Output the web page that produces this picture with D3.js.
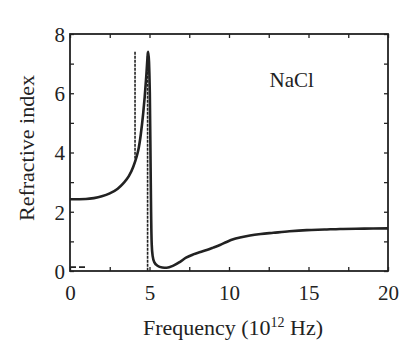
<!DOCTYPE html>
<html><head><meta charset="utf-8">
<script src="https://cdn.jsdelivr.net/npm/d3@7"></script>
<style>html,body{margin:0;padding:0;background:#fff;}svg{display:block;}</style>
</head><body>
<script>
// Data (frequency in 10^12 Hz, refractive index)
const freq = [0,1,1.5,2,2.5,3,3.35,3.7,3.98,4.19,4.3,4.45,4.6,4.7,4.8,4.92,
  5.02,5.07,5.1,5.14,5.2,5.3,5.5,5.8,6.08,6.5,6.92,7.3,7.75,8.2,8.6,9.0,9.43,9.85,
  10.27,10.69,11.32,12.0,12.79,13.8,14.89,16,16.98,18.5,20];
const index = [2.42,2.43,2.46,2.52,2.62,2.78,2.96,3.2,3.52,3.86,4.09,4.6,5.3,5.89,6.6,7.4,
  6.0,3.5,2.0,0.9,0.5,0.3,0.18,0.12,0.11,0.18,0.31,0.45,0.56,0.64,0.71,0.79,0.88,0.98,
  1.07,1.13,1.2,1.25,1.29,1.34,1.38,1.4,1.42,1.43,1.44];
const xTickLabels = [0,5,10,15,20];
const yTickLabels = [0,2,4,6,8];
const xMinorTicks = [0,2.5,5,7.5,10,12.5,15,17.5,20];
const yMinorTicks = [0,1,2,3,4,5,6,7,8];
// marker lines: [x, yFrom, yTo]
const markerLines = [[4.09,7.4,3.8],[4.88,7.4,0]];
const dashSegment = [[0,0.13],[0.95,0.13]];
const materialLabel = "NaCl";

const W=414,H=345;
const m={l:70,r:26,t:34,b:74};
const svg=d3.select("body").append("svg").attr("width",W).attr("height",H);
const x=d3.scaleLinear().domain([0,20]).range([m.l,W-m.r]);
const y=d3.scaleLinear().domain([0,8]).range([H-m.b,m.t]);
const ink="#222";
const serif="'Liberation Serif','Times New Roman',serif";

// frame
svg.append("rect").attr("x",x(0)).attr("y",y(8)).attr("width",x(20)-x(0)).attr("height",y(0)-y(8))
  .attr("fill","none").attr("stroke",ink).attr("stroke-width",1.8);

const tl=4;
// inward ticks on all sides
svg.append("g").attr("transform",`translate(0,${y(0)})`)
  .call(d3.axisBottom(x).tickValues(xMinorTicks).tickSize(-tl).tickFormat(""))
  .call(g=>{g.select(".domain").remove();g.selectAll("line").attr("stroke",ink).attr("stroke-width",1.3);});
svg.append("g").attr("transform",`translate(0,${y(8)})`)
  .call(d3.axisTop(x).tickValues(xMinorTicks).tickSize(-tl).tickFormat(""))
  .call(g=>{g.select(".domain").remove();g.selectAll("line").attr("stroke",ink).attr("stroke-width",1.3);});
svg.append("g").attr("transform",`translate(${x(0)},0)`)
  .call(d3.axisLeft(y).tickValues(yMinorTicks).tickSize(-tl).tickFormat(""))
  .call(g=>{g.select(".domain").remove();g.selectAll("line").attr("stroke",ink).attr("stroke-width",1.3);});
svg.append("g").attr("transform",`translate(${x(20)},0)`)
  .call(d3.axisRight(y).tickValues(yMinorTicks).tickSize(-tl).tickFormat(""))
  .call(g=>{g.select(".domain").remove();g.selectAll("line").attr("stroke",ink).attr("stroke-width",1.3);});

// tick labels
svg.append("g").attr("transform",`translate(0,${y(0)})`)
  .call(d3.axisBottom(x).tickValues(xTickLabels).tickSize(0).tickPadding(29).tickFormat(d3.format("d")))
  .call(g=>{g.select(".domain").remove();g.selectAll("text").attr("font-family",serif).attr("font-size",21).attr("fill",ink).attr("dy",0);});
svg.append("g").attr("transform",`translate(${x(0)},0)`)
  .call(d3.axisLeft(y).tickValues(yTickLabels).tickSize(0).tickPadding(5).tickFormat(d3.format("d")))
  .call(g=>{g.select(".domain").remove();g.selectAll("text").attr("font-family",serif).attr("font-size",21).attr("fill",ink).attr("dy","0.35em");});

// axis titles
const xt=svg.append("text").attr("x",233).attr("y",335).attr("text-anchor","middle")
  .attr("font-family",serif).attr("font-size",22).attr("fill",ink);
xt.append("tspan").text("Frequency (10");
xt.append("tspan").attr("font-size",14).attr("dy",-8).text("12");
xt.append("tspan").attr("dy",8).text(" Hz)");
svg.append("text").attr("transform","translate(34,148) rotate(-90)").attr("text-anchor","middle")
  .attr("font-family",serif).attr("font-size",22).attr("fill",ink).text("Refractive index");

// material label
svg.append("text").attr("x",x(12.55)).attr("y",87).attr("font-family",serif).attr("font-size",21)
  .attr("fill",ink).text(materialLabel);

// marker lines
svg.selectAll(".mk").data(markerLines).join("line")
  .attr("x1",d=>x(d[0])).attr("x2",d=>x(d[0])).attr("y1",d=>y(d[1])).attr("y2",d=>y(d[2]))
  .attr("stroke",ink).attr("stroke-width",1.6).attr("stroke-dasharray","3,1");
svg.append("path").datum(dashSegment)
  .attr("d",d3.line().x(d=>x(d[0])).y(d=>y(d[1])))
  .attr("stroke",ink).attr("stroke-width",1.6).attr("stroke-dasharray","6,3").attr("fill","none");

// curve
const pts=freq.map((f,i)=>[f,index[i]]);
svg.append("path").datum(pts)
  .attr("d",d3.line().x(d=>x(d[0])).y(d=>y(d[1])).curve(d3.curveMonotoneX))
  .attr("fill","none").attr("stroke",ink).attr("stroke-width",2.6).attr("stroke-linejoin","round");
</script>
</body></html>
